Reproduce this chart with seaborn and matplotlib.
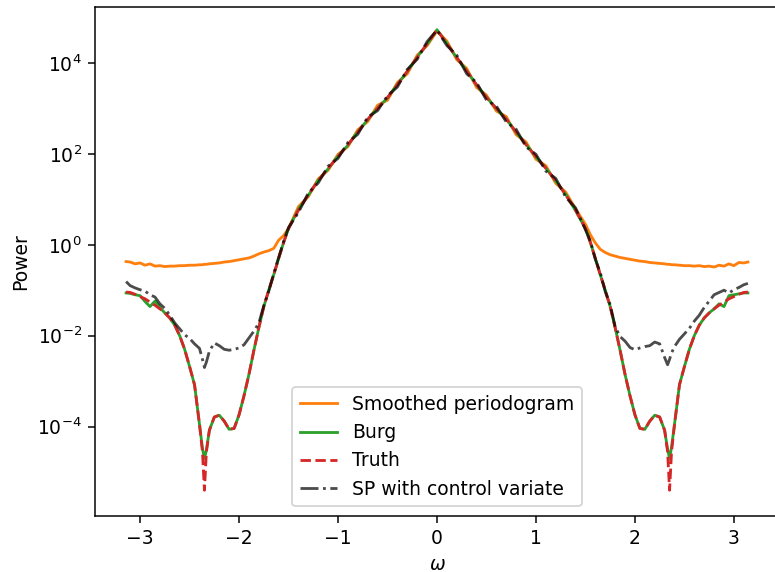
import numpy as np
import matplotlib
matplotlib.use("Agg")
import matplotlib.pyplot as plt
import seaborn as sns

# frequency grid (rad)
omega = [
    -np.pi, -3.10, -3.05, -3.00, -2.95, -2.90, -2.85, -2.80, -2.75, -2.70, -2.65, -2.60,
    -2.55, -2.50, -2.45, -2.40, -2.37, -2.35, -2.33, -2.30, -2.25, -2.20, -2.15, -2.10,
    -2.05, -2.00, -1.95, -1.90, -1.85, -1.80, -1.75, -1.70, -1.65, -1.60, -1.55, -1.50,
    -1.40, -1.30, -1.20, -1.10, -1.00, -0.90, -0.80, -0.70, -0.60, -0.50, -0.40, -0.30,
    -0.20, -0.10,
    0.00,
    0.10, 0.20, 0.30, 0.40, 0.50, 0.60, 0.70, 0.80, 0.90, 1.00, 1.10, 1.20, 1.30, 1.40,
    1.50, 1.55, 1.60, 1.65, 1.70, 1.75, 1.80, 1.85, 1.90, 1.95, 2.00, 2.05, 2.10, 2.15,
    2.20, 2.25, 2.30, 2.33, 2.35, 2.37, 2.40, 2.45, 2.50, 2.55, 2.60, 2.65, 2.70, 2.75,
    2.80, 2.85, 2.90, 2.95, 3.00, 3.05, 3.10, np.pi,
]

# log10 of power for each estimate
log_sp = [
    -0.37, -0.38, -0.42, -0.40, -0.45, -0.42, -0.47, -0.46, -0.48, -0.47, -0.47, -0.46,
    -0.46, -0.45, -0.45, -0.44, -0.44, -0.43, -0.43, -0.42, -0.41, -0.40, -0.38, -0.37,
    -0.35, -0.33, -0.31, -0.29, -0.25, -0.20, -0.16, -0.13, -0.08, 0.10, 0.20, 0.36,
    0.84, 1.06, 1.45, 1.64, 1.99, 2.16, 2.53, 2.71, 3.07, 3.18, 3.57, 3.76,
    4.17, 4.38,
    4.70,
    4.48, 4.07, 3.88, 3.46, 3.29, 2.94, 2.82, 2.42, 2.26, 1.88, 1.74, 1.35, 1.16, 0.79,
    0.45, 0.22, 0.04, -0.10, -0.17, -0.22, -0.25, -0.28, -0.30, -0.32, -0.34, -0.36, -0.37, -0.39,
    -0.40, -0.41, -0.42, -0.43, -0.43, -0.44, -0.44, -0.45, -0.46, -0.46, -0.47, -0.46, -0.48, -0.47,
    -0.49, -0.45, -0.47, -0.42, -0.46, -0.39, -0.40, -0.38,
]

log_burg = [
    -1.06, -1.07, -1.10, -1.12, -1.25, -1.36, -1.24, -1.38, -1.50, -1.61, -1.77, -2.00,
    -2.30, -2.68, -3.08, -3.95, -4.48, -4.70, -4.52, -4.08, -3.79, -3.75, -3.88, -4.06,
    -4.04, -3.74, -3.32, -2.85, -2.32, -1.82, -1.36, -1.00, -0.66, -0.30, 0.05, 0.36,
    0.78, 1.09, 1.42, 1.67, 1.95, 2.19, 2.49, 2.75, 3.01, 3.23, 3.53, 3.81,
    4.13, 4.41,
    4.73,
    4.43, 4.11, 3.83, 3.51, 3.25, 2.99, 2.77, 2.47, 2.21, 1.93, 1.69, 1.40, 1.11, 0.75,
    0.36, 0.05, -0.30, -0.66, -1.00, -1.36, -1.82, -2.32, -2.85, -3.32, -3.74, -4.04, -4.06, -3.88,
    -3.75, -3.79, -4.08, -4.50, -4.70, -4.45, -3.95, -3.08, -2.68, -2.30, -2.00, -1.77, -1.61, -1.50,
    -1.41, -1.30, -1.36, -1.12, -1.10, -1.08, -1.06, -1.06,
]

log_truth = [
    -1.04, -1.05, -1.09, -1.14, -1.19, -1.26, -1.33, -1.41, -1.50, -1.61, -1.77, -2.00,
    -2.30, -2.68, -3.08, -3.95, -4.55, -5.40, -4.55, -4.08, -3.79, -3.75, -3.88, -4.06,
    -4.04, -3.74, -3.32, -2.85, -2.32, -1.82, -1.36, -1.00, -0.66, -0.30, 0.05, 0.36,
    0.76, 1.10, 1.41, 1.68, 1.94, 2.20, 2.48, 2.76, 3.00, 3.24, 3.52, 3.82,
    4.12, 4.42,
    4.73,
    4.42, 4.12, 3.82, 3.52, 3.24, 3.00, 2.76, 2.48, 2.20, 1.94, 1.68, 1.41, 1.10, 0.76,
    0.36, 0.05, -0.30, -0.66, -1.00, -1.36, -1.82, -2.32, -2.85, -3.32, -3.74, -4.04, -4.06, -3.88,
    -3.75, -3.79, -4.08, -4.55, -5.40, -4.55, -3.95, -3.08, -2.68, -2.30, -2.00, -1.77, -1.61, -1.50,
    -1.41, -1.33, -1.26, -1.19, -1.14, -1.09, -1.05, -1.04,
]

log_sp_cv = [
    -0.81, -0.90, -0.95, -0.99, -1.02, -1.10, -1.15, -1.30, -1.40, -1.55, -1.72, -1.85,
    -1.98, -2.06, -2.18, -2.28, -2.52, -2.70, -2.58, -2.34, -2.16, -2.22, -2.30, -2.32,
    -2.30, -2.27, -2.20, -2.05, -1.90, -1.72, -1.34, -1.02, -0.64, -0.28, 0.07, 0.38,
    0.71, 1.14, 1.36, 1.73, 1.90, 2.25, 2.43, 2.81, 2.95, 3.28, 3.47, 3.86,
    4.08, 4.47,
    4.72,
    4.38, 4.17, 3.76, 3.57, 3.18, 3.05, 2.70, 2.54, 2.15, 1.99, 1.62, 1.46, 1.05, 0.81,
    0.33, 0.08, -0.32, -0.62, -1.03, -1.32, -1.80, -2.02, -2.12, -2.26, -2.31, -2.27, -2.24, -2.22,
    -2.14, -2.18, -2.48, -2.64, -2.52, -2.38, -2.24, -2.08, -1.96, -1.84, -1.68, -1.55, -1.38, -1.24,
    -1.10, -1.05, -1.00, -1.06, -0.99, -0.94, -0.88, -0.85,
]

# the reference was rendered at a higher dpi than 100, so fonts and lines are scaled up
DPI = 135
fig = plt.figure(figsize=(775 / DPI, 572 / DPI), dpi=DPI)
# axes placed so that the top and right edge sit where the reference crop has them
ax = fig.add_axes([95 / 775, 56.3 / 572, 684 / 775, 508.7 / 572])

x = np.array(omega)
sns.lineplot(x=x, y=np.power(10.0, log_sp), ax=ax, color="tab:orange",
             label="Smoothed periodogram", sort=False, estimator=None)
sns.lineplot(x=x, y=np.power(10.0, log_burg), ax=ax, color="tab:green",
             label="Burg", sort=False, estimator=None)
sns.lineplot(x=x, y=np.power(10.0, log_truth), ax=ax, color="tab:red",
             linestyle="--", label="Truth", sort=False, estimator=None)
sns.lineplot(x=x, y=np.power(10.0, log_sp_cv), ax=ax, color="k", alpha=0.7,
             linestyle="-.", label="SP with control variate", sort=False, estimator=None)

ax.set_yscale("log")
ax.set_xlim(-np.pi - 0.1 * np.pi, np.pi + 0.1 * np.pi)
ax.set_ylim(10 ** -5.96, 10 ** 5.23)
ax.set_xlabel(r"$\omega$")
ax.set_ylabel("Power")
ax.legend(loc="lower center")

fig.savefig("out.png", dpi=DPI)
